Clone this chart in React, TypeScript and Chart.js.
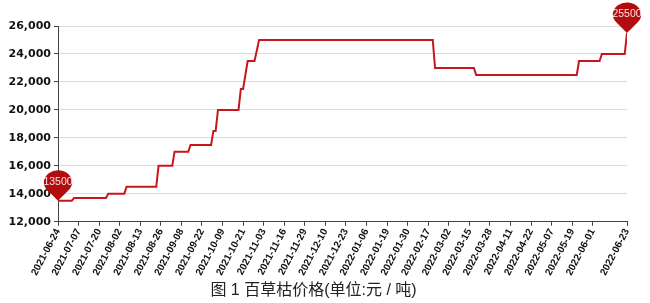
import React, { useEffect, useRef } from 'react';
import { Chart, registerables } from 'chart.js';

Chart.register(...registerables);

// Trading-day index of each breakpoint of the price line
const stepIndex = [0, 6, 7, 21, 22, 29, 30, 43, 44, 50, 51, 57, 58, 67, 68, 69, 70, 79, 80, 81, 83, 86, 88, 164, 165, 182, 183, 227, 228, 237, 238, 248, 249];
// Price (元/吨) at each breakpoint
const priceValues = [13500, 13500, 13700, 13700, 14000, 14000, 14500, 14500, 16000, 16000, 17000, 17000, 17500, 17500, 18500, 18500, 20000, 20000, 21500, 21500, 23500, 23500, 25000, 25000, 23000, 23000, 22500, 22500, 23500, 23500, 24000, 24000, 25500];

const tickIndex = [0, 9, 18, 27, 36, 45, 54, 63, 72, 81, 90, 99, 108, 117, 126, 135, 144, 153, 162, 171, 180, 189, 198, 207, 216, 225, 234, 249];
const tickLabels = ['2021-06-24', '2021-07-07', '2021-07-20', '2021-08-02', '2021-08-13', '2021-08-26', '2021-09-08', '2021-09-22', '2021-10-09', '2021-10-21', '2021-11-03', '2021-11-16', '2021-11-29', '2021-12-10', '2021-12-23', '2022-01-06', '2022-01-19', '2022-01-30', '2022-02-17', '2022-03-02', '2022-03-15', '2022-03-28', '2022-04-11', '2022-04-22', '2022-05-07', '2022-05-19', '2022-06-01', '2022-06-23'];
const yTicks = [12000, 14000, 16000, 18000, 20000, 22000, 24000, 26000];
const markerLabels = ['13500', '25500'];
const titleText = '图 1 百草枯价格(单位:元 / 吨)';

const pinPlugin = {
  id: 'pinMarkers',
  afterDatasetsDraw(chart: any) {
    const meta = chart.getDatasetMeta(0);
    const pts = [meta.data[0], meta.data[meta.data.length - 1]];
    const ctx = chart.ctx;
    pts.forEach((p: any, k: number) => {
      const x = p.x;
      const y = p.y;
      const r = 12;
      const d = 18.5;
      const a = Math.acos(r / d);
      ctx.save();
      ctx.translate(x, y);
      ctx.scale(1.18, 1);
      ctx.beginPath();
      ctx.moveTo(0, 0);
      ctx.arc(0, -d, r, Math.PI / 2 + a, Math.PI / 2 - a + Math.PI * 2, false);
      ctx.closePath();
      ctx.fillStyle = '#b20c0c';
      ctx.fill();
      ctx.restore();
      ctx.save();
      ctx.font = '10.5px "Liberation Sans", Arial, sans-serif';
      ctx.fillStyle = '#f7e4e4';
      ctx.textAlign = 'center';
      ctx.textBaseline = 'middle';
      ctx.fillText(markerLabels[k], x, y - d);
      ctx.restore();
    });
  },
};

export default function App() {
  const canvasRef = useRef<HTMLCanvasElement | null>(null);

  useEffect(() => {
    if (!canvasRef.current) return;
    const chart = new Chart(canvasRef.current, {
      type: 'line',
      data: {
        datasets: [
          {
            data: stepIndex.map((x, i) => ({ x, y: priceValues[i] })),
            borderColor: '#c8161d',
            borderWidth: 2,
            pointRadius: 0,
            tension: 0,
            fill: false,
          },
        ],
      },
      options: {
        animation: false,
        responsive: false,
        maintainAspectRatio: false,
        layout: { padding: { top: 26, right: 23, left: 0, bottom: 0 } },
        plugins: {
          legend: { display: false },
          tooltip: { enabled: false },
          title: {
            display: true,
            position: 'bottom',
            text: titleText,
            color: '#222',
            font: { size: 16, weight: 'normal', lineHeight: 1.2, family: '"Liberation Sans", "Noto Sans CJK SC", sans-serif' },
            padding: { top: 1, bottom: 3 },
          },
        },
        scales: {
          x: {
            type: 'linear',
            min: 0,
            max: 249,
            afterBuildTicks: (s: any) => {
              s.ticks = tickIndex.map((v) => ({ value: v }));
            },
            afterFit: (s: any) => {
              s.height = 58;
            },
            grid: { drawOnChartArea: false, drawTicks: true, tickLength: 4, tickColor: '#444' },
            border: { color: '#444', width: 1 },
            ticks: {
              autoSkip: false,
              minRotation: 62,
              maxRotation: 62,
              padding: 1,
              color: '#111',
              font: { size: 10, weight: 'bold', family: '"Liberation Sans", Arial, sans-serif' },
              callback: (v: any) => {
                const k = tickIndex.indexOf(Number(v));
                return k >= 0 ? tickLabels[k] : '';
              },
            },
          },
          y: {
            type: 'linear',
            min: 12000,
            max: 26000,
            afterBuildTicks: (s: any) => {
              s.ticks = yTicks.map((v) => ({ value: v }));
            },
            afterFit: (s: any) => {
              s.width = 58;
            },
            grid: { color: '#dcdcdc', tickColor: '#444', tickLength: 4 },
            border: { color: '#444', width: 1 },
            ticks: {
              padding: 3,
              color: '#111',
              font: { size: 11, weight: 'bold', family: '"DejaVu Sans", sans-serif' },
              callback: (v: any) => Number(v).toLocaleString('en-US'),
            },
          },
        },
      },
      plugins: [pinPlugin],
    } as any);
    return () => chart.destroy();
  }, []);

  return (
    <div style={{ position: 'absolute', left: 0, top: 0, width: 650, height: 303, background: '#fff' }}>
      <canvas ref={canvasRef} width={650} height={303} style={{ display: 'block' }} />
    </div>
  );
}
